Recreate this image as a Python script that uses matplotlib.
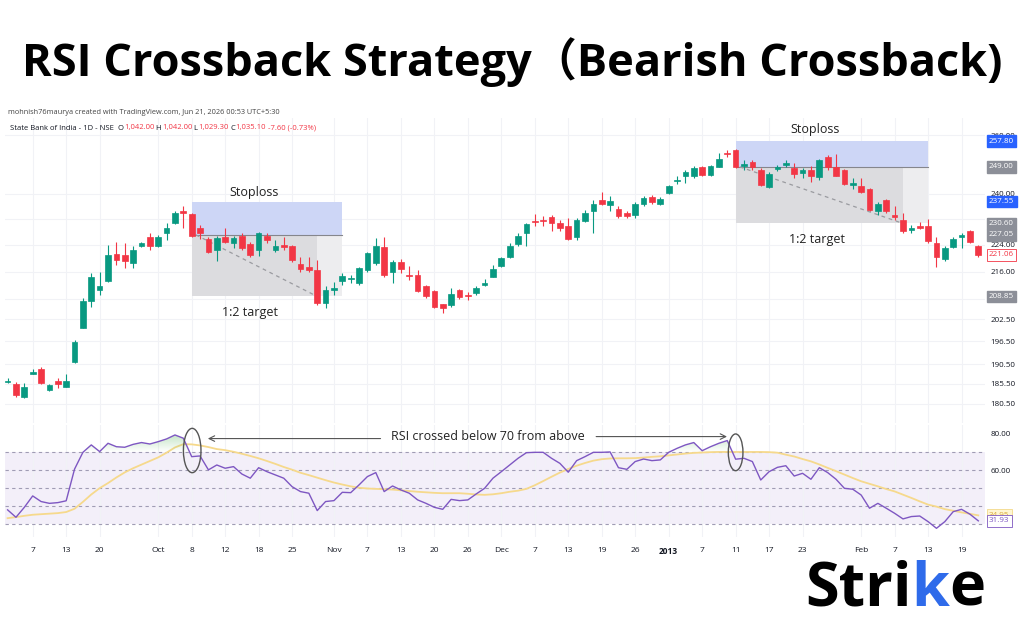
import numpy as np
import matplotlib
matplotlib.use("Agg")
import matplotlib.pyplot as plt
import matplotlib.transforms as mtransforms
from matplotlib.patches import Rectangle, Ellipse, PathPatch
from matplotlib.path import Path
from matplotlib.ticker import NullLocator

plt.rcParams['font.family'] = ['Open Sans', 'DejaVu Sans', 'Noto Sans CJK SC']

opens = [186.0, 185.4, 182.1, 188.1, 189.2, 184.0, 186.3, 184.8, 191.2, 200.2,
         207.6, 210.6, 213.2, 221.1, 221.0, 218.5, 223.8, 226.5, 223.8, 227.5,
         230.6, 234.6, 233.6, 229.1, 225.7, 222.5, 226.5, 224.5, 226.7, 224.2,
         222.5, 226.7, 222.3, 223.9, 223.7, 218.3, 217.3, 216.4, 206.9, 210.7,
         213.4, 214.0, 212.6, 216.4, 218.5, 223.3, 216.0, 218.7, 215.0, 215.0,
         211.9, 210.5, 206.7, 206.4, 210.6, 209.3, 209.8, 212.0, 214.5, 217.7,
         220.4, 224.3, 227.5, 231.4, 231.8, 232.6, 230.8, 229.8, 226.3, 231.5,
         234.6, 238.0, 236.4, 235.2, 233.8, 233.3, 236.7, 239.1, 236.9, 240.2,
         244.3, 245.9, 245.9, 248.8, 246.3, 249.0, 253.8, 254.7, 249.3, 250.5,
         247.8, 242.2, 248.4, 249.7, 248.7, 247.0, 247.8, 245.7, 252.2, 248.8,
         247.8, 242.9, 242.7, 241.6, 234.6, 238.1, 233.3, 231.7, 228.7, 229.8,
         229.8, 224.5, 219.6, 223.3, 226.5, 228.2, 223.7]
highs = [187.0, 186.0, 185.8, 189.2, 189.7, 185.4, 186.9, 188.0, 196.9, 208.5,
         215.5, 216.0, 224.0, 225.0, 224.5, 223.5, 225.0, 227.5, 227.0, 230.6,
         234.6, 236.1, 234.0, 230.1, 226.5, 226.7, 229.1, 226.7, 227.5, 225.0,
         228.0, 227.7, 225.5, 226.5, 224.0, 220.4, 220.4, 219.4, 211.7, 213.0,
         215.5, 215.0, 217.5, 221.9, 226.2, 226.5, 219.4, 219.6, 217.6, 216.4,
         212.1, 210.8, 206.8, 211.2, 211.0, 210.2, 211.7, 214.0, 218.0, 220.4,
         224.5, 227.5, 230.8, 233.6, 233.0, 233.3, 231.7, 232.4, 232.4, 234.7,
         238.0, 240.8, 239.3, 236.2, 234.4, 237.5, 239.3, 239.7, 239.1, 242.9,
         245.9, 247.8, 249.2, 249.4, 249.6, 253.8, 254.7, 255.0, 251.4, 251.2,
         248.7, 247.3, 249.6, 251.2, 250.3, 248.7, 249.2, 251.8, 253.0, 253.3,
         248.3, 245.3, 245.3, 241.9, 237.5, 238.4, 236.2, 234.0, 230.1, 231.2,
         231.9, 226.5, 223.5, 226.5, 227.5, 228.5, 224.0]
lows = [185.6, 182.3, 182.0, 188.0, 185.4, 183.8, 184.4, 184.7, 190.7, 200.1,
        205.9, 209.3, 213.0, 218.0, 217.0, 217.0, 223.3, 222.5, 223.4, 225.5,
        230.3, 229.1, 226.5, 225.7, 221.4, 219.0, 224.5, 223.0, 222.5, 220.4,
        220.6, 224.5, 221.9, 222.5, 218.9, 216.0, 215.9, 206.4, 205.5, 209.3,
        212.1, 212.6, 212.1, 216.0, 218.0, 214.5, 212.6, 215.7, 213.7, 210.2,
        208.4, 205.5, 204.3, 206.0, 208.2, 207.9, 209.3, 211.7, 214.4, 217.3,
        220.0, 223.7, 223.7, 229.8, 229.8, 228.2, 228.4, 225.5, 225.5, 231.2,
        227.5, 236.4, 234.4, 232.4, 232.2, 232.2, 236.2, 236.9, 236.4, 239.9,
        243.4, 243.5, 245.4, 246.0, 246.0, 248.8, 252.3, 248.7, 248.0, 248.0,
        242.6, 241.9, 247.6, 249.0, 245.3, 245.3, 244.1, 244.5, 248.0, 245.8,
        243.0, 241.6, 240.4, 234.6, 233.3, 234.0, 231.8, 227.5, 227.5, 228.8,
        224.5, 217.5, 219.2, 223.0, 223.0, 224.7, 220.4]
closes = [186.3, 182.6, 184.8, 188.6, 185.6, 185.2, 185.5, 186.2, 196.4, 207.6,
          214.3, 211.9, 220.9, 219.4, 219.1, 222.5, 224.5, 223.8, 226.5, 229.3,
          234.0, 233.8, 226.7, 227.7, 221.9, 226.2, 224.8, 226.0, 223.0, 220.9,
          227.5, 225.5, 223.7, 223.2, 219.4, 216.8, 216.4, 206.9, 210.8, 211.3,
          214.7, 214.2, 217.0, 221.4, 223.7, 215.0, 218.7, 216.7, 214.8, 210.5,
          209.0, 206.0, 205.6, 209.5, 208.8, 208.9, 211.2, 212.7, 216.7, 220.0,
          223.7, 226.7, 230.4, 231.2, 231.5, 230.8, 229.2, 225.8, 231.7, 234.0,
          236.7, 236.9, 237.7, 232.8, 232.8, 236.7, 238.6, 237.5, 238.4, 242.6,
          244.6, 247.2, 248.6, 246.3, 249.4, 251.8, 253.4, 249.0, 250.0, 249.0,
          242.9, 246.7, 249.0, 250.3, 246.5, 247.8, 246.0, 251.2, 248.8, 246.0,
          243.3, 243.7, 240.8, 234.9, 236.9, 234.5, 232.6, 228.3, 229.2, 229.2,
          225.3, 220.4, 223.0, 225.8, 227.0, 224.9, 221.06]

rsi = [38.0, 33.9, 39.4, 45.7, 42.6, 41.6, 42.0, 43.0, 60.5, 69.8,
       73.9, 70.2, 74.8, 72.9, 72.6, 74.2, 75.2, 74.4, 75.7, 77.2,
       79.4, 77.6, 67.4, 67.8, 60.1, 62.8, 61.0, 61.9, 57.8, 55.5,
       61.3, 59.1, 57.3, 55.5, 50.8, 48.1, 47.2, 37.6, 42.6, 43.1,
       47.7, 47.5, 51.8, 56.4, 58.6, 48.1, 51.2, 49.0, 47.2, 43.5,
       41.6, 39.4, 38.3, 43.8, 43.1, 43.5, 46.8, 49.9, 55.5, 59.1,
       62.8, 66.5, 69.6, 69.8, 69.8, 66.5, 63.7, 58.8, 65.2, 67.4,
       69.8, 69.8, 70.0, 61.3, 60.4, 64.7, 66.1, 65.2, 65.6, 69.8,
       72.0, 73.9, 75.2, 70.7, 72.9, 74.8, 76.3, 66.0, 66.5, 64.7,
       54.5, 59.1, 61.5, 62.4, 56.7, 58.2, 54.9, 61.3, 58.6, 54.9,
       49.9, 49.4, 46.2, 38.9, 41.6, 38.9, 36.1, 33.0, 34.3, 34.6,
       31.5, 27.8, 31.5, 37.0, 38.3, 35.6, 31.93]
rsi_ma = [33.4, 34.0, 34.7, 35.3, 35.6, 35.9, 36.2, 36.8, 38.6, 42.4,
          46.5, 50.0, 52.8, 55.9, 58.7, 61.0, 63.0, 65.0, 67.0, 69.6,
          72.5, 74.3, 74.2, 73.6, 72.7, 71.6, 71.0, 70.1, 69.0, 67.8,
          66.5, 65.0, 63.4, 61.7, 60.2, 58.5, 57.2, 55.8, 54.4, 53.1,
          52.0, 51.0, 50.2, 49.8, 49.6, 49.4, 49.2, 48.8, 48.4, 48.0,
          47.7, 47.4, 47.2, 47.2, 47.2, 46.9, 46.5, 46.3, 46.6, 47.2,
          48.0, 48.6, 49.6, 51.6, 53.9, 56.3, 58.6, 60.6, 62.4, 63.9,
          65.2, 66.0, 66.4, 66.5, 66.5, 66.6, 66.9, 67.3, 67.6, 68.1,
          68.6, 69.1, 69.5, 69.7, 69.9, 70.0, 70.0, 70.0, 70.0, 70.0,
          70.0, 69.9, 69.6, 68.5, 67.5, 66.1, 64.8, 63.1, 61.2, 59.4,
          57.5, 55.6, 53.8, 52.4, 51.0, 49.5, 48.2, 46.4, 44.6, 42.7,
          40.9, 39.8, 38.4, 37.5, 36.6, 35.8, 34.95]

tick_pos = [3, 7, 11, 18, 22, 26, 30, 34, 39, 43, 47, 51, 55, 59, 63, 67, 71,
            75, 79, 83, 87, 91, 95, 102, 106, 110, 114]
tick_labels = ['7', '13', '20', 'Oct', '8', '12', '18', '25', 'Nov', '7', '13',
               '20', '26', 'Dec', '7', '13', '19', '26', '2013', '7', '11', '17',
               '23', 'Feb', '7', '13', '19']
price_ticks = [260, 240, 232, 224, 216, 208, 202.5, 196.5, 190.5, 185.5, 180.5]
hidden_ticks = [232, 208]   # covered by the price tags in the screenshot
rsi_ticks = [80, 60]

# short position tool: start bar, end of filled part, end bar, stop, entry, target
positions = [(22, 37, 40, 237.55, 227.05, 208.85),
             (87, 107, 110, 257.80, 249.00, 230.60)]
price_tags = [(257.80, '#2962FF'), (249.00, '#8C8F98'), (237.55, '#2962FF'),
              (230.60, '#8C8F98'), (227.05, '#8C8F98'), (208.85, '#8C8F98')]
last_close = 221.06

UP, DOWN = '#089981', '#F23645'
TXT = '#131722'

fig = plt.figure(figsize=(10.24, 6.4), dpi=100)

ax = fig.add_axes([5 / 1024, 1 - 423 / 640, 980 / 1024, 305 / 640])
axr = fig.add_axes([5 / 1024, 1 - 537 / 640, 980 / 1024, 112 / 640], sharex=ax)
bg = fig.add_axes([0, 0, 1, 1], zorder=5)
bg.axis('off')

x = np.arange(len(opens))
o = np.array(opens)
c = np.array(closes)
cols = [UP if cc >= oo else DOWN for oo, cc in zip(o, c)]

# price pane
ax.set_yscale('log')
ax.vlines(x, lows, highs, colors=cols, lw=0.8, zorder=3)
ax.bar(x, np.abs(c - o), bottom=np.minimum(o, c), width=0.68, color=cols,
       edgecolor=cols, lw=0.5, zorder=4)

for s, m, e, stop, entry, target in positions:
    ax.add_patch(Rectangle((s, entry), e - s, stop - entry, fc='#CDD6F6', ec='none', zorder=1))
    ax.add_patch(Rectangle((s, target), m - s, entry - target, fc='#DCDCDF', ec='none', zorder=1))
    ax.add_patch(Rectangle((m, target), e - m, entry - target, fc='#EDEDEF', ec='none', zorder=1))
    ax.plot([s, e], [entry, entry], color='#85868C', lw=0.8, zorder=2)
    ax.plot([s + 0.5, m], [entry, target], color='#9A9BA0', lw=0.9, ls=(0, (3, 3)), zorder=2)

ax.text(29.5, 240.5, 'Stoploss', ha='center', va='center', fontsize=9, color='#222222')
ax.text(29.0, 204.3, '1:2 target', ha='center', va='center', fontsize=9, color='#222222')
ax.text(96.5, 261.8, 'Stoploss', ha='center', va='center', fontsize=9, color='#222222')
ax.text(96.7, 225.5, '1:2 target', ha='center', va='center', fontsize=9, color='#222222')

ax.set_xlim(-0.31, 116.8)
ax.set_ylim(175.9, 266.07)
ax.yaxis.tick_right()
ax.set_yticks(price_ticks)
ax.set_yticklabels(['' if t in hidden_ticks else f'{t:.2f}' for t in price_ticks])
ax.yaxis.set_minor_locator(NullLocator())
ax.tick_params(axis='y', length=0, pad=4, labelsize=5.8, labelcolor=TXT)
ax.set_xticks(tick_pos)
ax.tick_params(axis='x', length=0, labelbottom=False)
ax.grid(color='#F1F2F6', lw=0.8)
ax.set_axisbelow(True)
for sp in ax.spines.values():
    sp.set_visible(False)

ytr = mtransforms.blended_transform_factory(ax.transAxes, ax.transData)
for val, col in price_tags:
    ax.text(1.004, val, f'{val:.2f}', transform=ytr, ha='left', va='center', fontsize=5.8,
            color='white', zorder=6, bbox=dict(boxstyle='square,pad=0.3', fc=col, ec=col))
ax.text(1.004, last_close, f'{last_close:.2f}', transform=ytr, ha='left', va='center',
        fontsize=5.8, color=DOWN, zorder=6,
        bbox=dict(boxstyle='square,pad=0.3', fc='white', ec=DOWN, lw=0.6))

# RSI pane
r = np.array(rsi)
axr.axhspan(30, 70, color='#7E57C2', alpha=0.09, lw=0, zorder=0)
for lvl in [70, 60, 50, 40, 30]:
    axr.axhline(lvl, color='#A09CB4', lw=0.8, ls=(0, (3, 3)), zorder=1)
axr.plot(x, rsi_ma, color='#F6D98C', lw=1.3, zorder=2)
poly = axr.fill_between(x, r, 70, where=r > 70, interpolate=True, color='none', lw=0)
paths = poly.get_paths()
if paths:
    clip = PathPatch(Path.make_compound_path(*paths), transform=axr.transData,
                     fc='none', ec='none')
    axr.add_patch(clip)
    grad = np.zeros((100, 1, 4))
    grad[:, 0, :3] = (0.30, 0.69, 0.31)
    grad[:, 0, 3] = np.linspace(0.5, 0.0, 100)
    im = axr.imshow(grad, extent=(-1, 118, 70, 85), aspect='auto', origin='upper', zorder=2.5)
    im.set_clip_path(clip)
axr.plot(x, r, color='#7E57C2', lw=1.0, zorder=3)

axr.add_patch(Ellipse((22.06, 70.8), 2.1, 24.5, fc='none', ec='#555555', lw=1.0, zorder=5, clip_on=False))
axr.add_patch(Ellipse((87.0, 69.8), 1.75, 20.3, fc='none', ec='#555555', lw=1.0, zorder=5, clip_on=False))
axr.text(57.4, 78.3, 'RSI crossed below 70 from above', ha='center', va='center',
         fontsize=9, color='#222222', zorder=6)
axr.annotate('', xy=(23.6, 77.4), xytext=(44.9, 77.4),
             arrowprops=dict(arrowstyle='->', color='#555555', lw=0.8), zorder=6)
axr.annotate('', xy=(86.3, 78.5), xytext=(70.0, 78.5),
             arrowprops=dict(arrowstyle='->', color='#555555', lw=0.8), zorder=6)

axr.set_xlim(-0.31, 116.8)
axr.set_ylim(23.0, 84.9)
axr.yaxis.tick_right()
axr.set_yticks(rsi_ticks)
axr.set_yticklabels([f'{t:.2f}' for t in rsi_ticks])
axr.tick_params(axis='y', length=0, pad=4, labelsize=5.8, labelcolor=TXT)
axr.set_xticks(tick_pos)
axr.set_xticklabels(tick_labels)
axr.tick_params(axis='x', length=0, pad=7, labelsize=6, labelcolor=TXT)
for lab in axr.get_xticklabels():
    if lab.get_text() == '2013':
        lab.set_fontweight('bold')
axr.grid(axis='x', color='#F1F2F6', lw=0.8)
axr.set_axisbelow(True)
for sp in axr.spines.values():
    sp.set_visible(False)

rtr = mtransforms.blended_transform_factory(axr.transAxes, axr.transData)
axr.text(1.004, rsi_ma[-1], f'{rsi_ma[-1]:.2f}', transform=rtr, ha='left', va='center',
         fontsize=5.8, color='#D9A93A', zorder=6,
         bbox=dict(boxstyle='square,pad=0.3', fc='#FFF6D2', ec='#F3D98A', lw=0.6))
axr.text(1.004, rsi[-1], f'{rsi[-1]:.2f}', transform=rtr, ha='left', va='center',
         fontsize=5.8, color='#7E57C2', zorder=6,
         bbox=dict(boxstyle='square,pad=0.3', fc='white', ec='#7E57C2', lw=0.6))

# header texts
bg.text(0.5, 1 - 62 / 640, 'RSI Crossback Strategy（Bearish Crossback)', ha='center',
        va='center', fontsize=32.5, fontweight='bold', color='black',
        family=['Open Sans', 'Noto Sans CJK SC'])
bg.text(8 / 1024, 1 - 113 / 640,
        'mohnish76maurya created with TradingView.com, Jun 21, 2026 00:53 UTC+5:30',
        fontsize=5.3, color='#444444', va='center')

legend_parts = [('State Bank of India - 1D - NSE  ', TXT), ('O', TXT), ('1,042.00', DOWN),
                (' H', TXT), ('1,042.00', DOWN), (' L', TXT), ('1,029.30', DOWN),
                (' C', TXT), ('1,035.10', DOWN), (' -7.60 (-0.73%)', DOWN)]
prev = bg.text(10 / 1024, 1 - 128 / 640, legend_parts[0][0], fontsize=5.5, color=legend_parts[0][1],
               va='center')
for txt, col in legend_parts[1:]:
    prev = bg.annotate(txt, xy=(1, 0), xycoords=prev, va='bottom', fontsize=5.5, color=col)

# Strike logo
t1 = bg.text(805 / 1024, 1 - 590 / 640, 'Stri', fontsize=44, fontweight='bold',
             color='black', va='center')
t2 = bg.annotate('k', xy=(1, 0), xycoords=t1, va='bottom', fontsize=44,
                 fontweight='bold', color='#2F6BEA')
bg.annotate('e', xy=(1, 0), xycoords=t2, va='bottom', fontsize=44,
            fontweight='bold', color='black')

fig.savefig('out.png', dpi=100, facecolor='white')
